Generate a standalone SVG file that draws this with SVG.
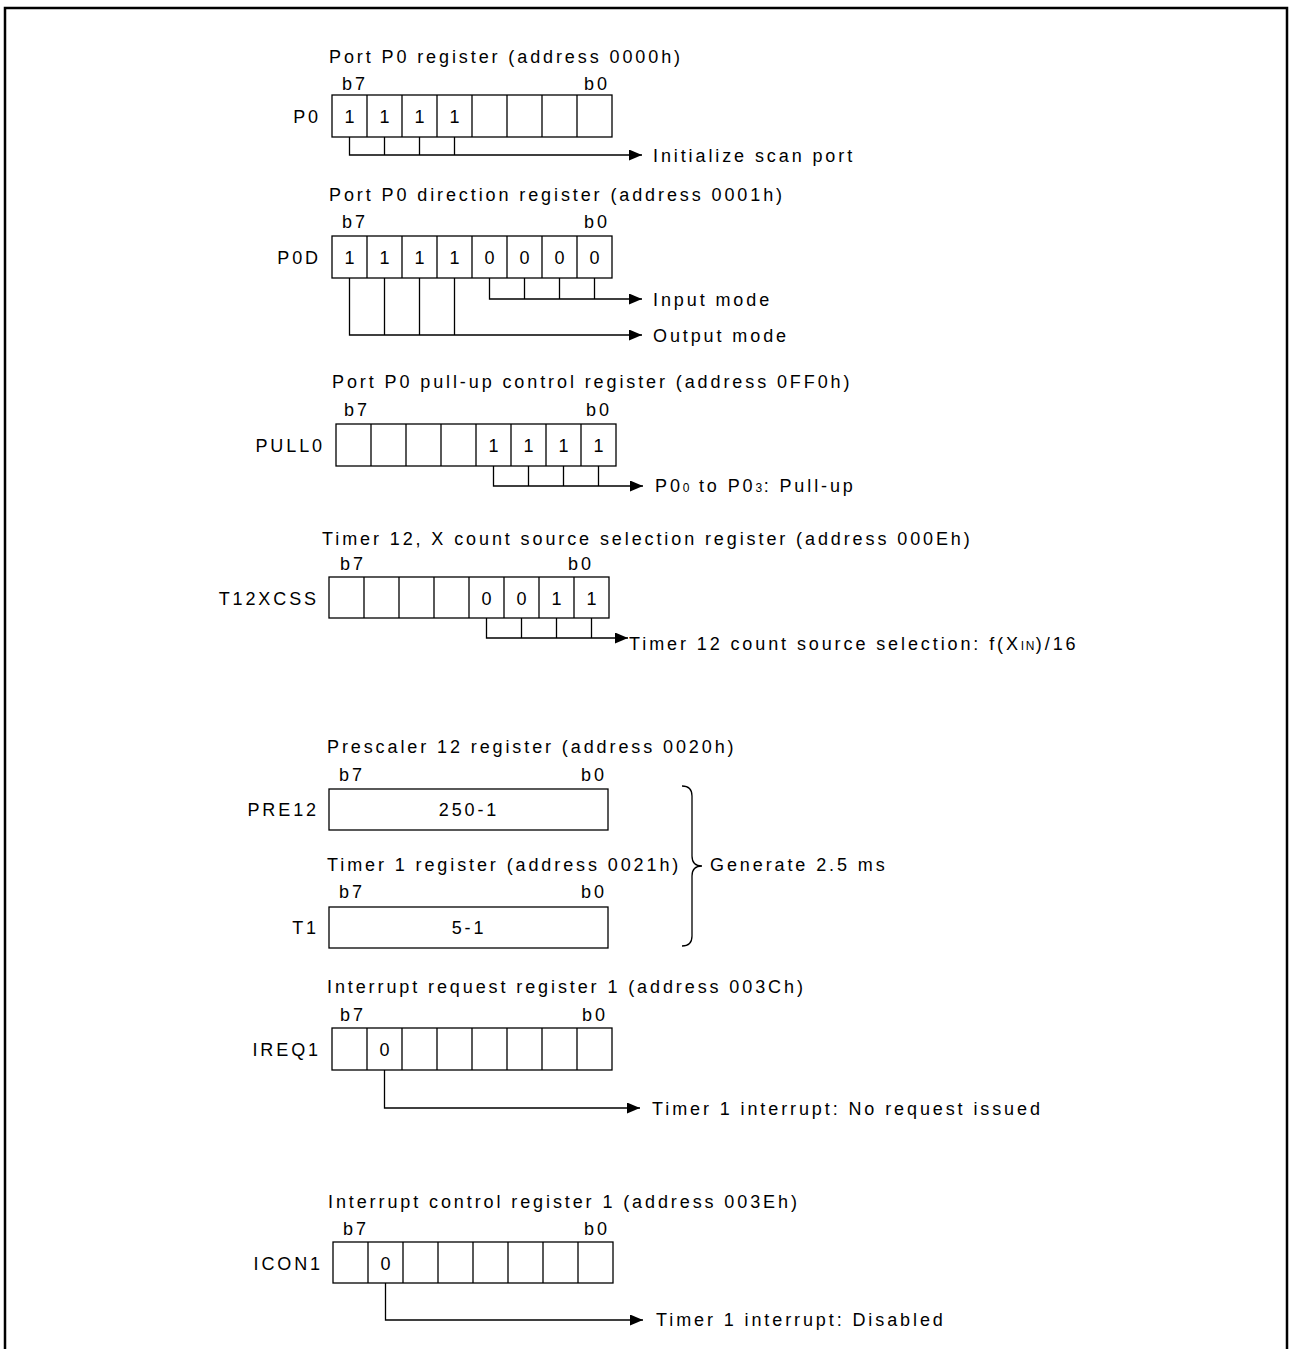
<svg xmlns="http://www.w3.org/2000/svg" width="1289" height="1349" viewBox="0 0 1289 1349">
<defs>
<marker id="ah" markerWidth="13" markerHeight="11" refX="13" refY="5.5" orient="auto" markerUnits="userSpaceOnUse">
<path d="M0,0 L13,5.5 L0,11 Z" fill="#000"/>
</marker>
<style>
text{font-family:"Liberation Sans",Arial,sans-serif;font-size:18px;fill:#000;letter-spacing:2.9px}
.lbl{text-anchor:end}
.v{text-anchor:middle}
.box{fill:none;stroke:#000;stroke-width:1.3}
.c{fill:none;stroke:#000;stroke-width:1.3}
.sm{font-size:12px;letter-spacing:1.5px}
</style>
</defs>
<rect x="0" y="0" width="1289" height="1349" fill="#fff"/>
<path d="M5,1349 V8 H1287 V1349" fill="none" stroke="#000" stroke-width="2.5"/>

<g id="P0">
<text x="329" y="63">Port P0 register (address 0000h)</text>
<text x="342" y="90">b7</text><text x="584" y="90">b0</text>
<text class="lbl" x="321" y="123">P0</text>
<rect class="box" x="332" y="95" width="280" height="42"/>
<path class="c" d="M367,95V137M402,95V137M437,95V137M472,95V137M507,95V137M542,95V137M577,95V137"/>
<text class="v" x="350.9" y="123">1</text><text class="v" x="385.9" y="123">1</text><text class="v" x="420.9" y="123">1</text><text class="v" x="455.9" y="123">1</text>
<text x="653" y="162">Initialize scan port</text>
</g>

<g id="P0D">
<text x="329" y="201">Port P0 direction register (address 0001h)</text>
<text x="342" y="228">b7</text><text x="584" y="228">b0</text>
<text class="lbl" x="321" y="264">P0D</text>
<rect class="box" x="332" y="236" width="280" height="42"/>
<path class="c" d="M367,236V278M402,236V278M437,236V278M472,236V278M507,236V278M542,236V278M577,236V278"/>
<text class="v" x="350.9" y="264">1</text><text class="v" x="385.9" y="264">1</text><text class="v" x="420.9" y="264">1</text><text class="v" x="455.9" y="264">1</text>
<text class="v" x="490.9" y="264">0</text><text class="v" x="525.9" y="264">0</text><text class="v" x="560.9" y="264">0</text><text class="v" x="595.9" y="264">0</text>
<text x="653" y="306">Input mode</text>
<text x="653" y="342">Output mode</text>
</g>

<g id="PULL0">
<text x="332" y="388">Port P0 pull-up control register (address 0FF0h)</text>
<text x="344" y="416">b7</text><text x="586" y="416">b0</text>
<text class="lbl" x="325" y="452">PULL0</text>
<rect class="box" x="336" y="424" width="280" height="42"/>
<path class="c" d="M371,424V466M406,424V466M441,424V466M476,424V466M511,424V466M546,424V466M581,424V466"/>
<text class="v" x="494.9" y="452">1</text><text class="v" x="529.9" y="452">1</text><text class="v" x="564.9" y="452">1</text><text class="v" x="599.9" y="452">1</text>
<text x="655" y="492">P0<tspan class="sm">0</tspan> to P0<tspan class="sm">3</tspan>: Pull-up</text>
</g>

<g id="T12XCSS">
<text x="322" y="545">Timer 12, X count source selection register (address 000Eh)</text>
<text x="340" y="570">b7</text><text x="568" y="570">b0</text>
<text class="lbl" x="319" y="605">T12XCSS</text>
<rect class="box" x="329" y="577" width="280" height="41"/>
<path class="c" d="M364,577V618M399,577V618M434,577V618M469,577V618M504,577V618M539,577V618M574,577V618"/>
<text class="v" x="487.9" y="605">0</text><text class="v" x="522.9" y="605">0</text><text class="v" x="557.9" y="605">1</text><text class="v" x="592.9" y="605">1</text>
<text x="629" y="650">Timer 12 count source selection: f(X<tspan class="sm">IN</tspan>)/16</text>
</g>

<g id="PRE12">
<text x="327" y="753">Prescaler 12 register (address 0020h)</text>
<text x="339" y="781">b7</text><text x="581" y="781">b0</text>
<text class="lbl" x="319" y="816">PRE12</text>
<rect class="box" x="329" y="789" width="279" height="41"/>
<text class="v" x="469" y="816">250-1</text>
</g>

<g id="T1">
<text x="327" y="871">Timer 1 register (address 0021h)</text>
<text x="339" y="898">b7</text><text x="581" y="898">b0</text>
<text class="lbl" x="319" y="934">T1</text>
<rect class="box" x="329" y="907" width="279" height="41"/>
<text class="v" x="469" y="934">5-1</text>
</g>

<g id="brace">
<path class="c" d="M682,786 Q692,786 692,796 V856 Q692,866 702,866 Q692,866 692,876 V936 Q692,946 682,946"/>
<text x="710" y="871">Generate 2.5 ms</text>
</g>

<g id="IREQ1">
<text x="327" y="993">Interrupt request register 1 (address 003Ch)</text>
<text x="340" y="1021">b7</text><text x="582" y="1021">b0</text>
<text class="lbl" x="321" y="1056">IREQ1</text>
<rect class="box" x="332" y="1028" width="280" height="42"/>
<path class="c" d="M367,1028V1070M402,1028V1070M437,1028V1070M472,1028V1070M507,1028V1070M542,1028V1070M577,1028V1070"/>
<text class="v" x="385.9" y="1056">0</text>
<text x="652" y="1115">Timer 1 interrupt: No request issued</text>
</g>

<g id="ICON1">
<text x="328" y="1208">Interrupt control register 1 (address 003Eh)</text>
<text x="343" y="1235">b7</text><text x="584" y="1235">b0</text>
<text class="lbl" x="323" y="1270">ICON1</text>
<rect class="box" x="333" y="1242" width="280" height="41"/>
<path class="c" d="M368,1242V1283M403,1242V1283M438,1242V1283M473,1242V1283M508,1242V1283M543,1242V1283M578,1242V1283"/>
<text class="v" x="386.9" y="1270">0</text>
<text x="656" y="1326">Timer 1 interrupt: Disabled</text>
</g>

<g id="connectors">
<path class="c" d="M384.5,137V155M419.5,137V155M454.5,137V155"/>
<path class="c" marker-end="url(#ah)" d="M349.5,137V155H642"/>
<path class="c" d="M524.5,278V299M559.5,278V299M594.5,278V299"/>
<path class="c" marker-end="url(#ah)" d="M489.5,278V299H642"/>
<path class="c" d="M384.5,278V335M419.5,278V335M454.5,278V335"/>
<path class="c" marker-end="url(#ah)" d="M349.5,278V335H642"/>
<path class="c" d="M528.5,466V486M563.5,466V486M598.5,466V486"/>
<path class="c" marker-end="url(#ah)" d="M493.5,466V486H643"/>
<path class="c" d="M521.5,618V638M556.5,618V638M591.5,618V638"/>
<path class="c" marker-end="url(#ah)" d="M486.5,618V638H628"/>
<path class="c" marker-end="url(#ah)" d="M384.5,1070V1108H640"/>
<path class="c" marker-end="url(#ah)" d="M385.5,1283V1320H643"/>
</g>
</svg>
